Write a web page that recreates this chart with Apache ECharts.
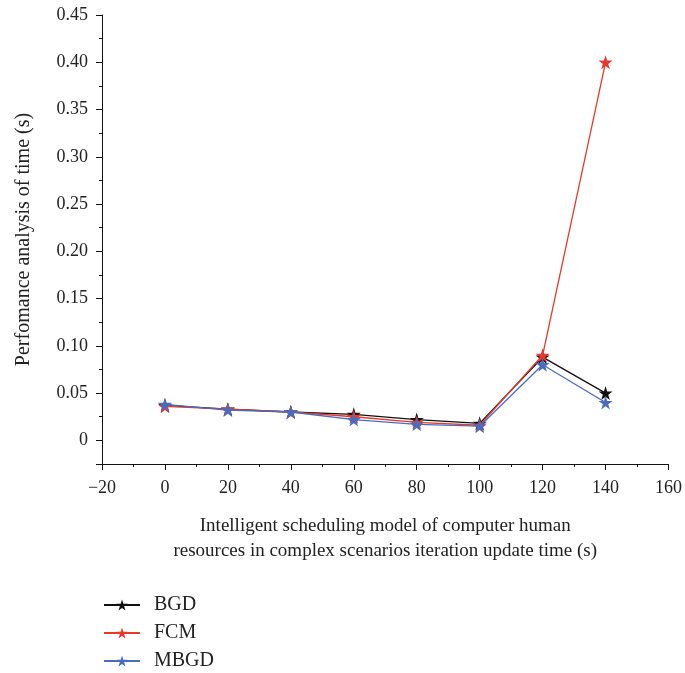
<!DOCTYPE html>
<html><head><meta charset="utf-8">
<script src="https://cdn.jsdelivr.net/npm/echarts@6/dist/echarts.min.js"></script>
<style>html,body{margin:0;padding:0;background:#fff}#c{width:685px;height:673px}</style>
</head><body><div id="c"></div>
<script>
const xValues = [0, 20, 40, 60, 80, 100, 120, 140];
const bgd  = [0.037, 0.033, 0.030, 0.0275, 0.022, 0.018, 0.088, 0.050];
const fcm  = [0.036, 0.033, 0.030, 0.025, 0.019, 0.016, 0.090, 0.400];
const mbgd = [0.038, 0.032, 0.030, 0.022, 0.017, 0.015, 0.080, 0.040];
const seriesNames = ['BGD', 'FCM', 'MBGD'];
const colors = ['#111111', '#e8382a', '#4a6cc0'];
const yAxisName = 'Perfomance analysis of time (s)';
const xAxisName = 'Intelligent scheduling model of computer human\nresources in complex scenarios iteration update time (s)';

const FONT = '"Liberation Serif", "DejaVu Serif", serif';
const STAR = 'path://M50,0 L61.2,34.5 L97.6,34.5 L68.2,55.9 L79.4,90.5 L50,69.1 L20.6,90.5 L31.8,55.9 L2.4,34.5 L38.8,34.5 Z';
const chart = echarts.init(document.getElementById('c'));
const data = [bgd, fcm, mbgd];
chart.setOption({
  animation: false,
  grid: {left: 102, right: 13, top: 15, bottom: 209},
  legend: {
    orient: 'vertical', left: 103, top: 595, height: 90, padding: 0,
    itemGap: 8, itemWidth: 36, itemHeight: 14,
    textStyle: {fontFamily: FONT, fontSize: 20, lineHeight: 20, color: '#222', padding: [0, 0, 0, 9]},
    data: seriesNames
  },
  xAxis: {
    type: 'value', min: -20, max: 160, interval: 20,
    axisLine: {onZero: false, lineStyle: {color: '#111', width: 1}},
    axisTick: {length: 6, lineStyle: {color: '#111'}},
    minorTick: {show: true, splitNumber: 2, length: 3, lineStyle: {color: '#111'}},
    splitLine: {show: false},
    axisLabel: {fontFamily: FONT, fontSize: 18, color: '#222', margin: 15,
      formatter: v => v < 0 ? '\u2212' + Math.abs(v) : String(v)},
    name: xAxisName, nameLocation: 'middle', nameGap: 50,
    nameTextStyle: {fontFamily: FONT, fontSize: 19, color: '#222', lineHeight: 25}
  },
  yAxis: [{
    type: 'value', min: -0.025, max: 0.45, interval: 0.025,
    axisLine: {onZero: false, lineStyle: {color: '#111', width: 1}},
    axisTick: {length: 3, lineStyle: {color: '#111'}},
    splitLine: {show: false},
    axisLabel: {fontFamily: FONT, fontSize: 18, color: '#222', margin: 14,
      formatter: v => {
        const k = Math.round(v / 0.025);
        if (k % 2 !== 0) return '';
        if (k === 0) return '0';
        return (k * 0.025).toFixed(2);
      }},
    name: yAxisName, nameLocation: 'middle', nameGap: 68,
    nameTextStyle: {fontFamily: FONT, fontSize: 20, color: '#222'}
  }, {
    type: 'value', position: 'left', inverse: true, min: -0.45, max: 0.025, interval: 0.05,
    axisLine: {show: false, onZero: false},
    axisTick: {length: 6, lineStyle: {color: '#111'}},
    axisLabel: {show: false},
    splitLine: {show: false}
  }],
  series: seriesNames.map((n, i) => ({
    name: n, type: 'line', yAxisIndex: 0,
    data: xValues.map((x, j) => [x, data[i][j]]),
    symbol: STAR, symbolSize: 14,
    lineStyle: {color: colors[i], width: 1.3},
    itemStyle: {color: colors[i]},
    z: 2 + i
  }))
});
</script></body></html>
